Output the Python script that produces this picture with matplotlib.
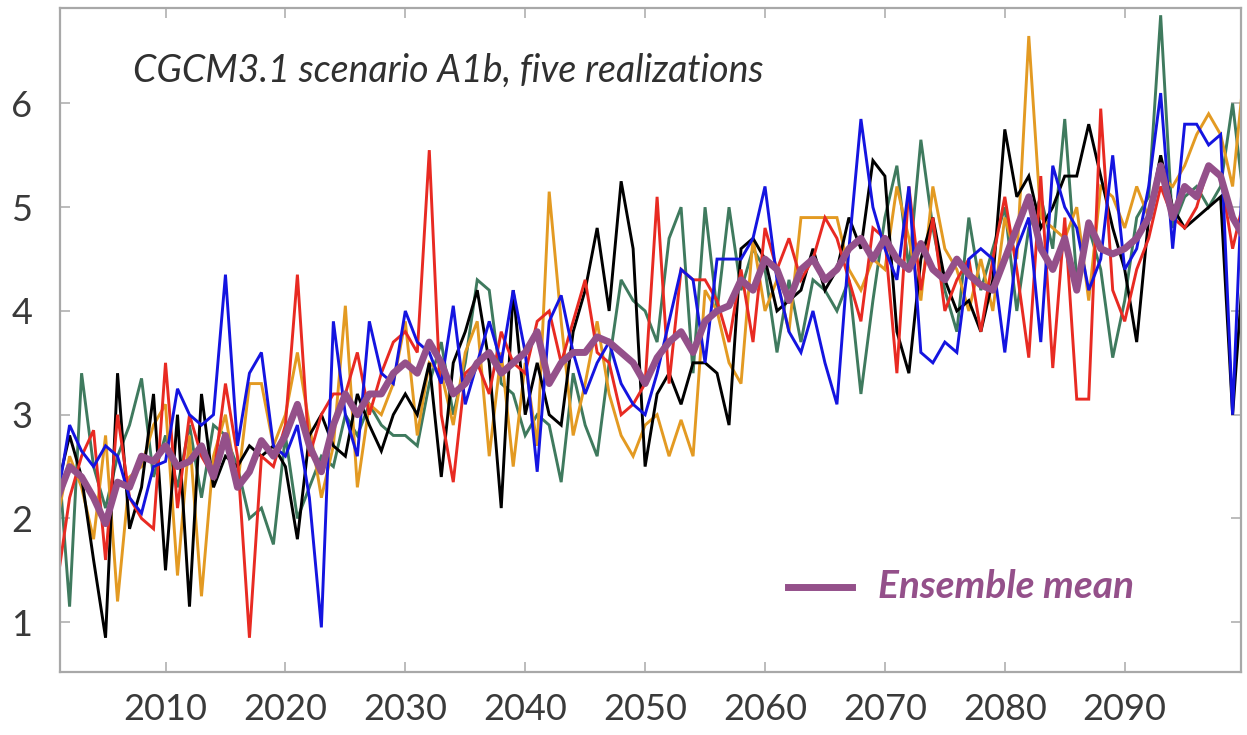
import matplotlib
matplotlib.use("Agg")
import matplotlib.pyplot as plt
import numpy as np

years = list(range(2001, 2101))

blue = [2.2, 2.9, 2.65, 2.5, 2.7, 2.6, 2.2, 2.05, 2.5, 2.55,
        3.25, 3.0, 2.9, 3.0, 4.35, 2.7, 3.4, 3.6, 2.7, 2.6,
        2.9, 2.2, 0.95, 3.9, 3.0, 2.6, 3.9, 3.4, 3.3, 4.0,
        3.7, 3.6, 3.3, 4.05, 3.1, 3.5, 3.9, 3.5, 4.2, 3.6,
        2.45, 3.9, 4.15, 3.6, 3.2, 3.5, 3.7, 3.3, 3.1, 3.0,
        3.4, 3.9, 4.4, 4.3, 3.5, 4.5, 4.5, 4.5, 4.7, 5.2,
        4.3, 3.8, 3.6, 4.0, 3.5, 3.1, 4.6, 5.85, 5.0, 4.6,
        4.3, 5.2, 3.6, 3.5, 3.7, 3.6, 4.5, 4.6, 4.5, 3.6,
        4.6, 4.9, 3.7, 5.4, 5.0, 4.8, 4.2, 4.5, 5.5, 4.4,
        4.6, 5.2, 6.1, 4.6, 5.8, 5.8, 5.6, 5.7, 3.0, 5.85]

black = [2.3, 2.8, 2.4, 1.6, 0.85, 3.4, 1.9, 2.3, 3.2, 1.5,
         3.0, 1.15, 3.2, 2.3, 2.6, 2.5, 2.7, 2.6, 2.7, 2.5,
         1.8, 2.8, 3.0, 2.7, 2.6, 3.2, 2.9, 2.65, 3.0, 3.2,
         3.0, 3.5, 2.4, 3.5, 3.8, 4.2, 3.5, 2.1, 4.2, 3.0,
         3.5, 3.0, 2.9, 3.8, 4.2, 4.8, 4.0, 5.25, 4.6, 2.5,
         3.2, 3.4, 3.1, 3.5, 3.5, 3.4, 2.9, 4.6, 4.7, 4.5,
         4.0, 4.1, 4.2, 4.6, 4.2, 4.4, 4.9, 4.6, 5.45, 5.3,
         3.8, 3.4, 4.5, 4.9, 4.3, 4.0, 4.1, 3.8, 4.3, 5.75,
         5.1, 5.3, 4.8, 5.0, 5.3, 5.3, 5.8, 5.3, 4.8, 4.4,
         3.7, 4.9, 5.5, 5.0, 4.8, 4.9, 5.0, 5.1, 3.0, 4.6]

red = [1.4, 2.2, 2.6, 2.85, 1.6, 3.0, 2.2, 2.0, 1.9, 3.5,
       2.1, 3.0, 2.6, 2.4, 3.3, 2.6, 0.85, 2.6, 2.5, 2.9,
       4.35, 2.6, 3.0, 3.2, 3.2, 3.6, 3.0, 3.4, 3.7, 3.8,
       3.6, 5.55, 3.0, 2.35, 3.4, 3.5, 3.2, 3.8, 3.5, 3.4,
       3.9, 4.0, 3.5, 3.9, 4.3, 3.6, 3.5, 3.0, 3.1, 3.3,
       5.1, 3.3, 4.4, 4.3, 4.3, 4.1, 3.7, 4.4, 3.7, 4.8,
       4.4, 4.7, 4.3, 4.5, 4.9, 4.7, 4.3, 3.9, 4.8, 4.7,
       3.4, 5.2, 4.2, 4.9, 4.0, 4.3, 4.5, 3.8, 4.5, 5.1,
       4.4, 3.55, 5.3, 3.45, 4.9, 3.15, 3.15, 5.95, 4.2, 3.9,
       4.4, 4.7, 5.2, 4.9, 4.8, 5.0, 5.4, 5.3, 4.6, 5.1]

orange = [2.0, 2.6, 2.3, 1.8, 2.8, 1.2, 2.4, 2.5, 2.9, 3.1,
          1.45, 2.8, 1.25, 2.6, 3.0, 2.3, 3.3, 3.3, 2.7, 3.0,
          3.6, 2.9, 2.2, 2.7, 4.05, 2.3, 3.1, 3.0, 3.3, 3.9,
          2.8, 3.5, 3.4, 2.9, 3.6, 3.9, 2.6, 3.6, 2.5, 3.5,
          2.7, 5.15, 3.9, 2.8, 3.3, 3.9, 3.2, 2.8, 2.6, 2.9,
          3.0, 2.6, 2.95, 2.6, 4.2, 4.0, 3.5, 3.3, 4.7, 4.0,
          4.3, 3.8, 4.9, 4.9, 4.9, 4.9, 4.4, 4.2, 4.5, 4.4,
          5.2, 4.7, 4.1, 5.2, 4.6, 4.4, 4.0, 4.5, 4.0, 4.9,
          4.5, 6.65, 4.9, 4.8, 4.7, 5.0, 4.1, 5.2, 5.1, 4.8,
          5.2, 4.9, 5.3, 5.2, 5.4, 5.7, 5.9, 5.7, 5.2, 6.35]

green = [2.7, 1.15, 3.4, 2.5, 2.1, 2.6, 2.9, 3.35, 2.4, 2.8,
         2.3, 2.9, 2.2, 2.9, 2.8, 2.5, 2.0, 2.1, 1.75, 2.8,
         2.0, 2.3, 2.6, 2.5, 3.0, 2.8, 3.1, 2.9, 2.8, 2.8,
         2.7, 3.3, 3.7, 3.0, 3.5, 4.3, 4.2, 3.3, 3.2, 2.8,
         3.0, 2.9, 2.35, 3.4, 2.9, 2.6, 3.5, 4.3, 4.1, 4.0,
         3.7, 4.7, 5.0, 3.4, 5.0, 4.0, 5.0, 4.2, 4.6, 4.4,
         3.6, 4.3, 3.7, 4.3, 4.2, 4.0, 4.3, 3.2, 4.1, 4.9,
         5.4, 4.4, 5.65, 4.8, 4.2, 3.8, 4.9, 4.2, 4.6, 5.0,
         4.0, 4.8, 5.1, 4.6, 5.85, 4.3, 4.8, 4.4, 3.55, 4.1,
         4.9, 5.1, 6.85, 4.8, 5.1, 5.2, 5.0, 5.2, 6.0, 5.0]

ensemble_mean = [2.2, 2.5, 2.4, 2.2, 1.95, 2.35, 2.3, 2.6, 2.55, 2.7,
                 2.5, 2.55, 2.7, 2.4, 2.8, 2.3, 2.45, 2.75, 2.6, 2.8,
                 3.1, 2.7, 2.45, 2.9, 3.2, 3.0, 3.2, 3.2, 3.4, 3.5,
                 3.4, 3.7, 3.5, 3.2, 3.3, 3.5, 3.6, 3.4, 3.5, 3.6,
                 3.8, 3.3, 3.5, 3.6, 3.6, 3.75, 3.7, 3.6, 3.5, 3.3,
                 3.55, 3.7, 3.8, 3.6, 3.9, 4.0, 4.05, 4.3, 4.2, 4.5,
                 4.4, 4.1, 4.4, 4.5, 4.3, 4.4, 4.6, 4.7, 4.5, 4.7,
                 4.5, 4.4, 4.65, 4.4, 4.3, 4.5, 4.35, 4.25, 4.2, 4.5,
                 4.8, 5.1, 4.6, 4.4, 4.7, 4.2, 4.85, 4.6, 4.55, 4.6,
                 4.7, 4.9, 5.4, 4.9, 5.2, 5.1, 5.4, 5.3, 4.9, 4.7]

series = [("green", green, "#3f7a5e"), ("orange", orange, "#e39a22"),
          ("black", black, "#000000"), ("red", red, "#e82a22"),
          ("blue", blue, "#1414e0")]

xticks = [2010, 2020, 2030, 2040, 2050, 2060, 2070, 2080, 2090]
yticks = [1, 2, 3, 4, 5, 6]

plt.rcParams['font.family'] = ['Lato', 'DejaVu Sans']

fig = plt.figure(figsize=(12.47, 7.35), dpi=100)
ax = fig.add_axes([60/1247, 1 - 672/735, (1241 - 60)/1247, (672 - 8)/735])

for name, vals, col in series:
    ax.plot(years, vals, color=col, lw=2.1, solid_joinstyle='miter')
ax.plot(years, ensemble_mean, color="#94508a", lw=5.0, solid_joinstyle='round')

ax.set_xlim(2001.2, 2099.7)
ax.set_ylim(0.52, 6.92)
ax.set_xticks(xticks)
ax.set_yticks(yticks)
ax.tick_params(direction='in', length=7, width=1.2, color='#b0b0b0',
               labelsize=26, labelcolor='#3a3a3a', top=True, right=True)
ax.tick_params(axis='x', pad=15)
ax.tick_params(axis='y', pad=20)
for s in ax.spines.values():
    s.set_color('#a8a8a8')
    s.set_linewidth(1.6)

ax.text(0.062, 0.905, "CGCM3.1 scenario A1b, five realizations",
        transform=ax.transAxes, fontsize=27, style='italic',
        color='#303030', ha='left', va='center')

ax.plot([(788 - 60)/1181, (852 - 60)/1181], [(672 - 587)/664]*2,
        transform=ax.transAxes, color="#94508a", lw=5.0, clip_on=False)
ax.text((878 - 60)/1181, (672 - 587)/664, "Ensemble mean",
        transform=ax.transAxes, fontsize=28, style='italic', weight='bold',
        color='#94508a', ha='left', va='center')

fig.savefig("out.png", dpi=100)
